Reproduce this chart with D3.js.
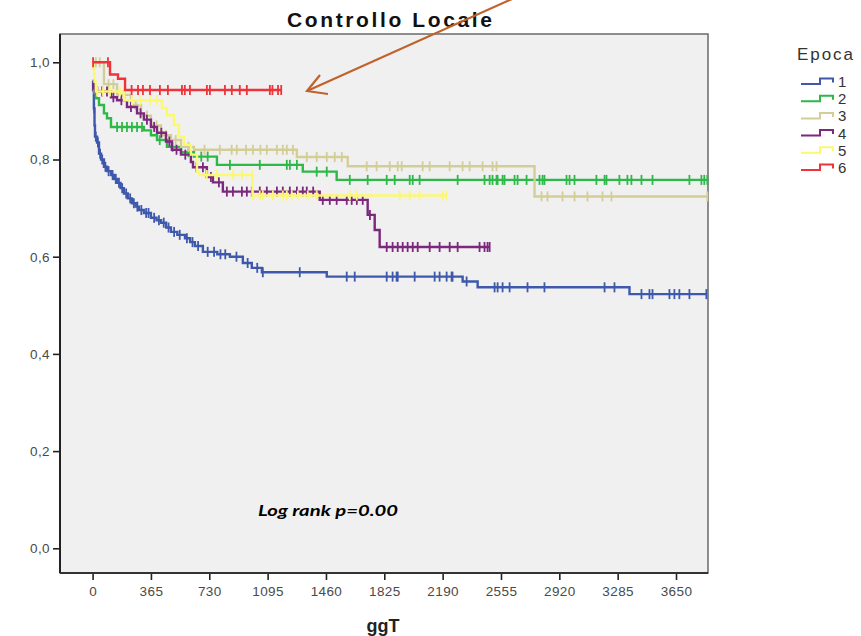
<!DOCTYPE html>
<html>
<head>
<meta charset="utf-8">
<script src="https://cdn.jsdelivr.net/npm/d3@7/dist/d3.min.js"></script>
<style>
  html, body { margin: 0; padding: 0; background: #ffffff; }
  svg { display: block; }
</style>
</head>
<body>
<svg id="chart" width="861" height="636"></svg>
<script>
// Kaplan-Meier curves, local control by treatment period (Epoca)
const groups = ["1", "2", "3", "4", "5", "6"];
const groupColors = ["#3E58AC", "#2EB848", "#D3CE97", "#7C287D", "#FBF873", "#EF3338"];

// event times (days) and survival after each event
const e1Days = [0, 3, 8, 12, 15, 28, 40, 53, 71, 90, 115, 135, 153, 175, 196, 220, 246, 270, 290, 321, 365, 400, 428, 460, 490, 530, 578, 610, 640, 690, 780, 859, 940, 996, 1059, 1465, 2315, 2409, 3359];
const e1Surv = [0.962, 0.943, 0.905, 0.87, 0.847, 0.835, 0.812, 0.8, 0.785, 0.776, 0.768, 0.76, 0.752, 0.741, 0.73, 0.72, 0.71, 0.703, 0.696, 0.69, 0.68, 0.675, 0.67, 0.66, 0.651, 0.645, 0.638, 0.63, 0.622, 0.61, 0.605, 0.6, 0.587, 0.577, 0.568, 0.559, 0.549, 0.537, 0.523];
const e1Cens = [10, 20, 33, 47, 60, 80, 100, 125, 145, 165, 185, 210, 235, 258, 280, 305, 335, 350, 385, 415, 445, 475, 510, 545, 590, 625, 660, 720, 760, 800, 830, 900, 970, 1030, 1065, 1296, 1590, 1640, 1840, 1877, 1902, 1909, 2015, 2140, 2171, 2215, 2246, 2252, 2340, 2515, 2534, 2565, 2609, 2721, 2827, 3203, 3265, 3434, 3484, 3503, 3609, 3640, 3671, 3734, 3840];

const e2Days = [0, 10, 21, 40, 71, 90, 115, 321, 365, 403, 465, 553, 634, 778, 1315, 1527];
const e2Surv = [0.947, 0.937, 0.926, 0.912, 0.895, 0.885, 0.867, 0.86, 0.85, 0.84, 0.826, 0.815, 0.806, 0.789, 0.775, 0.758];
const e2Cens = [153, 184, 215, 246, 278, 309, 420, 500, 600, 680, 720, 859, 1046, 1215, 1234, 1278, 1402, 1465, 1609, 1721, 1840, 1890, 1984, 2003, 2046, 2284, 2452, 2484, 2502, 2527, 2534, 2565, 2577, 2640, 2659, 2715, 2796, 2815, 2827, 2965, 2984, 3015, 3152, 3203, 3215, 3296, 3346, 3371, 3434, 3503, 3734, 3809, 3827, 3846];

const e3Days = [0, 71, 153, 240, 303, 365, 428, 490, 553, 634, 1278, 1596, 2765];
const e3Surv = [1.0, 0.955, 0.933, 0.912, 0.89, 0.87, 0.85, 0.84, 0.826, 0.82, 0.805, 0.786, 0.724];
const e3Cens = [20, 45, 100, 130, 200, 270, 340, 400, 460, 520, 600, 700, 796, 870, 902, 960, 1003, 1050, 1090, 1153, 1190, 1215, 1253, 1340, 1402, 1465, 1515, 1559, 1715, 1777, 1859, 1909, 1934, 2065, 2109, 2234, 2315, 2359, 2440, 2502, 2527, 2809, 2846, 2940, 3015, 3096, 3190, 3246, 3846];

const e4Days = [0, 5, 28, 115, 153, 215, 278, 321, 365, 403, 459, 496, 553, 615, 628, 715, 753, 815, 1421, 1721, 1765, 1796];
const e4Surv = [0.957, 0.947, 0.94, 0.928, 0.922, 0.908, 0.895, 0.882, 0.867, 0.855, 0.837, 0.82, 0.81, 0.795, 0.784, 0.764, 0.753, 0.734, 0.717, 0.686, 0.655, 0.62];
const e4Cens = [15, 60, 90, 130, 180, 240, 300, 340, 385, 430, 480, 525, 580, 650, 690, 740, 790, 840, 878, 934, 965, 996, 1046, 1090, 1153, 1190, 1234, 1278, 1315, 1340, 1380, 1440, 1484, 1527, 1590, 1621, 1653, 1690, 1735, 1840, 1877, 1909, 1940, 1971, 2003, 2034, 2109, 2171, 2234, 2284, 2421, 2452, 2471, 2484];

const e5Days = [0, 6, 12, 20, 196, 434, 465, 509, 540, 571, 615, 653, 665, 1000];
const e5Surv = [1.0, 0.988, 0.96, 0.94, 0.922, 0.906, 0.891, 0.871, 0.847, 0.83, 0.81, 0.775, 0.768, 0.726];
const e5Cens = [28, 65, 109, 171, 246, 296, 359, 403, 715, 778, 878, 934, 996, 1003, 1046, 1065, 1128, 1190, 1215, 1246, 1284, 1346, 1402, 1609, 1653, 1921, 1984, 2046, 2190, 2215];

const e6Days = [0, 109, 159, 203];
const e6Surv = [1.0, 0.975, 0.966, 0.943];
const e6Cens = [3, 96, 244, 284, 315, 359, 421, 471, 559, 577, 609, 715, 734, 828, 871, 921, 965, 1109, 1125, 1160, 1180];

const xTicks = [0, 365, 730, 1095, 1460, 1825, 2190, 2555, 2920, 3285, 3650];
const yTicks = [0, 0.2, 0.4, 0.6, 0.8, 1.0];

const chartTitle = "Controllo Locale";
const xTitle = "ggT";
const legendTitle = "Epoca";
const note = "Log rank p=0.00";

const series = [
  { days: e1Days, surv: e1Surv, cens: e1Cens },
  { days: e2Days, surv: e2Surv, cens: e2Cens },
  { days: e3Days, surv: e3Surv, cens: e3Cens },
  { days: e4Days, surv: e4Surv, cens: e4Cens },
  { days: e5Days, surv: e5Surv, cens: e5Cens },
  { days: e6Days, surv: e6Surv, cens: e6Cens }
];

const svg = d3.select("#chart");
const frame = { left: 60, top: 34, right: 708, bottom: 573 };
const sans = "Liberation Sans, Arial, sans-serif";

// scales: day 0 and 3650 land on the axis ticks, survival 0..1 on the y ticks
const x = d3.scaleLinear().domain([0, 3650]).range([92.6, 676]);
const y = d3.scaleLinear().domain([0, 1]).range([548.3, 62.3]);

// plot background
svg.append("rect")
  .attr("x", frame.left).attr("y", frame.top)
  .attr("width", frame.right - frame.left).attr("height", frame.bottom - frame.top)
  .attr("fill", "#F0F0F0").attr("stroke", "#6a6a6a").attr("stroke-width", 1.5);

// curves with censoring marks
const stepLine = d3.line().x(d => x(d[0])).y(d => y(d[1])).curve(d3.curveStepAfter);
const curves = svg.append("g");
series.forEach((s, i) => {
  const pts = s.days.map((d, k) => [d, s.surv[k]]);
  const last = Math.max(d3.max(s.cens), d3.max(s.days));
  pts.push([last, s.surv[s.surv.length - 1]]);
  const g = curves.append("g");
  g.append("path").attr("d", stepLine(pts))
    .attr("fill", "none").attr("stroke", groupColors[i]).attr("stroke-width", 2.4);
  const survAt = t => {
    let v = s.surv[0];
    s.days.forEach((d, k) => { if (d <= t) v = s.surv[k]; });
    return v;
  };
  g.selectAll("line.cens").data(s.cens).join("line")
    .attr("class", "cens")
    .attr("x1", d => x(d)).attr("x2", d => x(d))
    .attr("y1", d => y(survAt(d)) - 5).attr("y2", d => y(survAt(d)) + 5)
    .attr("stroke", groupColors[i]).attr("stroke-width", 1.8);
});

// axes
const commaFmt = d => d3.format(".1f")(d).replace(".", ",");
const yAxis = svg.append("g").attr("transform", `translate(${frame.left},0)`)
  .call(d3.axisLeft(y).tickValues(yTicks).tickFormat(commaFmt).tickSize(7).tickPadding(3));
const xAxis = svg.append("g").attr("transform", `translate(0,${frame.bottom})`)
  .call(d3.axisBottom(x).tickValues(xTicks).tickFormat(d3.format("d")).tickSize(7).tickPadding(6));
[yAxis, xAxis].forEach(a => {
  a.select(".domain").remove();
  a.selectAll(".tick line").attr("stroke", "#222").attr("stroke-width", 1.6);
  a.selectAll(".tick text").attr("fill", "#4a4a4a")
    .style("font-family", sans)
    .style("font-size", "13.5px").style("letter-spacing", "0.4px");
});

// heavier left and bottom axis lines
svg.append("line").attr("x1", frame.left).attr("x2", frame.left)
  .attr("y1", frame.top).attr("y2", frame.bottom)
  .attr("stroke", "#222").attr("stroke-width", 2);
svg.append("line").attr("x1", frame.left).attr("x2", frame.right)
  .attr("y1", frame.bottom).attr("y2", frame.bottom)
  .attr("stroke", "#333").attr("stroke-width", 2);

// titles
svg.append("text").attr("x", 389.5).attr("y", 27).attr("text-anchor", "middle")
  .attr("textLength", 205).attr("lengthAdjust", "spacing")
  .style("font-family", sans).style("font-weight", "bold")
  .style("font-size", "21px").attr("fill", "#111").text(chartTitle);
svg.append("text").attr("x", 383).attr("y", 632).attr("text-anchor", "middle")
  .style("font-family", sans).style("font-weight", "bold")
  .style("font-size", "18px").attr("fill", "#222").text(xTitle);

// log-rank note
svg.append("text").attr("x", 258).attr("y", 516)
  .attr("textLength", 140).attr("lengthAdjust", "spacingAndGlyphs")
  .style("font-family", "Lato, sans-serif").style("font-weight", "bold").style("font-style", "italic")
  .style("font-size", "16px").attr("fill", "#000").text(note);

// legend
const legend = svg.append("g");
legend.append("text").attr("x", 797).attr("y", 60)
  .attr("textLength", 56).attr("lengthAdjust", "spacing")
  .style("font-family", sans).style("font-size", "17px")
  .attr("fill", "#333").text(legendTitle);
const ly = d3.scalePoint().domain(groups).range([81.5, 167.5]);
groups.forEach((gName, i) => {
  const cy = ly(gName);
  legend.append("path")
    .attr("d", `M801,${cy + 2.5}H820V${cy - 3}H833V${cy + 1}`)
    .attr("fill", "none").attr("stroke", groupColors[i]).attr("stroke-width", 2);
  legend.append("text").attr("x", 838).attr("y", cy + 5.5)
    .style("font-family", sans).style("font-size", "15px")
    .attr("fill", "#333").text(gName);
});

// annotation arrow pointing at the group 6 curve
const arrowColor = "#C0622C";
svg.append("line").attr("x1", 512).attr("y1", -1).attr("x2", 307).attr("y2", 91)
  .attr("stroke", arrowColor).attr("stroke-width", 2.2);
svg.append("path").attr("d", "M320,75 L307,91 L328,94")
  .attr("fill", "none").attr("stroke", arrowColor).attr("stroke-width", 2.2)
  .attr("stroke-linejoin", "miter");
</script>
</body>
</html>
